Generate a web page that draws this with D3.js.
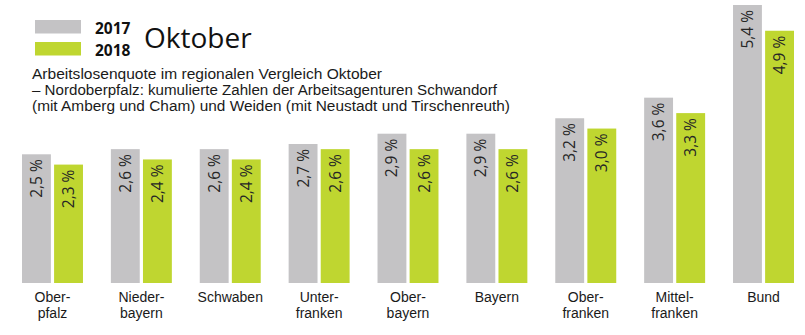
<!DOCTYPE html>
<html><head><meta charset="utf-8">
<script src="https://cdn.jsdelivr.net/npm/d3@7"></script>
<style>
html,body{margin:0;padding:0;background:#fff;}
svg{display:block;font-family:"Open Sans","Noto Sans",sans-serif;}
</style></head>
<body>
<svg id="chart" width="805" height="335"></svg>
<script>
const categories = ["Oberpfalz","Niederbayern","Schwaben","Unterfranken","Oberbayern","Bayern","Oberfranken","Mittelfranken","Bund"];
const catLabels = [["Ober-","pfalz"],["Nieder-","bayern"],["Schwaben"],["Unter-","franken"],["Ober-","bayern"],["Bayern"],["Ober-","franken"],["Mittel-","franken"],["Bund"]];
const series = ["2017","2018"];
const values2017 = [2.5,2.6,2.6,2.7,2.9,2.9,3.2,3.6,5.4];
const values2018 = [2.3,2.4,2.4,2.6,2.6,2.6,3.0,3.3,4.9];
const colors = ["#c4c3c5","#bfd630"];
const title = "Oktober";
const subtitle = ["Arbeitslosenquote im regionalen Vergleich Oktober",
 "– Nordoberpfalz: kumulierte Zahlen der Arbeitsagenturen Schwandorf",
 "(mit Amberg und Cham) und Weiden (mit Neustadt und Tirschenreuth)"];

const svg = d3.select("#chart");
const baseY = 283;
const y = d3.scaleLinear().domain([0, 5.4]).range([baseY, 5]);
const x0 = d3.scaleBand().domain(categories).range([22, 794]).paddingInner(0.314).paddingOuter(0);
const x1 = d3.scaleBand().domain(series).range([0, x0.bandwidth()]).paddingInner(0.1);
const color = d3.scaleOrdinal().domain(series).range(colors);

const data = categories.map((c,i)=>({cat:c, vals:[{s:"2017",v:values2017[i]},{s:"2018",v:values2018[i]}]}));
const fmt = v => d3.format(".1f")(v).replace(".", ",") + " %";

const g = svg.append("g").selectAll("g").data(data).join("g")
  .attr("transform", d=>`translate(${x0(d.cat)},0)`);
g.selectAll("rect").data(d=>d.vals).join("rect")
  .attr("x", d=>x1(d.s)).attr("width", x1.bandwidth())
  .attr("y", d=>y(d.v)).attr("height", d=>baseY - y(d.v))
  .attr("fill", d=>color(d.s));
g.selectAll("text.val").data(d=>d.vals).join("text").attr("class","val")
  .attr("transform", d=>`translate(${x1(d.s)+x1.bandwidth()/2+5.5},${y(d.v)+5}) rotate(-90)`)
  .attr("text-anchor","end").attr("font-size",15.5).attr("fill","#262626")
  .text(d=>fmt(d.v));

// category labels (one text per line)
categories.forEach((c,i)=>{
  catLabels[i].forEach((line,j)=>{
    svg.append("text").attr("x", x0(c)+x0.bandwidth()/2).attr("y", 302 + j*15.8)
      .attr("text-anchor","middle").attr("font-family","'Liberation Sans',Arial,sans-serif")
      .attr("font-size",14).attr("fill","#1a1a1a").text(line);
  });
});

// legend
series.forEach((s,i)=>{
  svg.append("rect").attr("x",35).attr("y",20+i*22).attr("width",46).attr("height",13.5).attr("fill",color(s));
  svg.append("text").attr("x",95).attr("y",34+i*22).attr("font-size",15.5).attr("font-weight","bold").attr("fill","#111").text(s);
});
svg.append("text").attr("x",144).attr("y",48).attr("font-size",28).attr("fill","#111").text(title);

// subtitle
const subW = [350, 465, 478];
subtitle.forEach((line,i)=>{
  svg.append("text").attr("x",32).attr("y",79+i*16).attr("font-size",14)
    .attr("font-family","'Liberation Sans',Arial,sans-serif").attr("fill","#1a1a1a")
    .attr("textLength", subW[i]).attr("lengthAdjust","spacingAndGlyphs").text(line);
});
</script>
</body></html>
